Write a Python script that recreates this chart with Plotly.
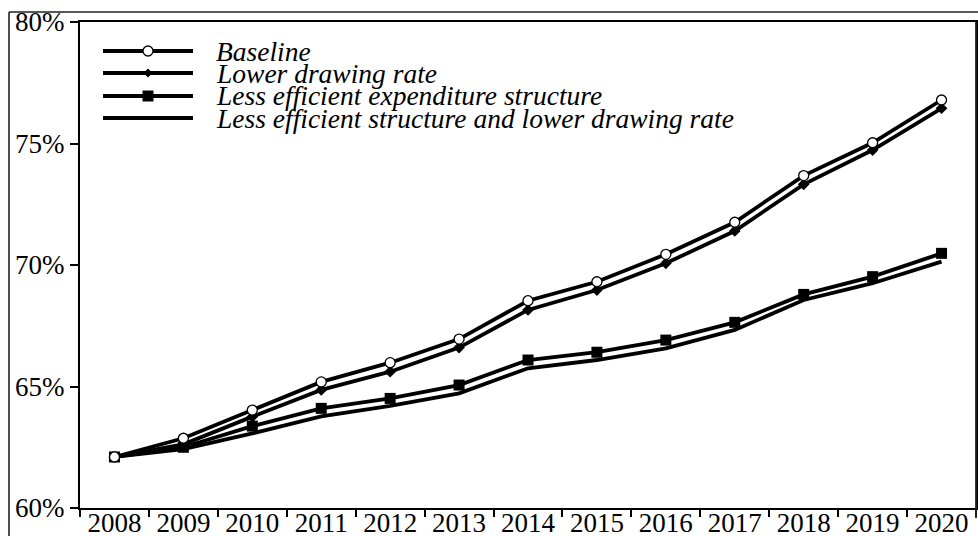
import plotly.graph_objects as go

years = ["2008", "2009", "2010", "2011", "2012", "2013", "2014",
         "2015", "2016", "2017", "2018", "2019", "2020"]
baseline = [62.1, 62.87, 64.03, 65.19, 65.98, 66.95, 68.53, 69.31, 70.44, 71.76, 73.68, 75.03, 76.79]
lower_rate = [62.1, 62.62, 63.76, 64.86, 65.61, 66.60, 68.15, 68.97, 70.07, 71.40, 73.32, 74.73, 76.45]
less_eff = [62.1, 62.50, 63.37, 64.10, 64.51, 65.06, 66.09, 66.41, 66.91, 67.64, 68.79, 69.52, 70.48]
less_eff_lower = [62.1, 62.42, 63.07, 63.77, 64.20, 64.72, 65.75, 66.09, 66.57, 67.33, 68.56, 69.25, 70.14]
series_names = ["Baseline", "Lower drawing rate",
                "Less efficient expenditure structure",
                "Less efficient structure and lower drawing rate"]
y_ticks = [60, 65, 70, 75, 80]

W, H = 978, 536
L, R, T, B = 80, 2, 22, 28
PW, PH = W - L - R, H - T - B

def px(x):
    return (x - L) / PW

def py(y):
    return (H - B - y) / PH

FONT = "Liberation Serif, Times New Roman, serif"
LW = 3.8

fig = go.Figure()
fig.add_trace(go.Scatter(x=years, y=less_eff_lower, mode="lines", name=series_names[3],
                         line=dict(color="black", width=LW)))
fig.add_trace(go.Scatter(x=years, y=less_eff, mode="lines+markers", name=series_names[2],
                         line=dict(color="black", width=LW),
                         marker=dict(symbol="square", size=11, color="black")))
fig.add_trace(go.Scatter(x=years, y=lower_rate, mode="lines+markers", name=series_names[1],
                         line=dict(color="black", width=LW),
                         marker=dict(symbol="diamond", size=9, color="black")))
fig.add_trace(go.Scatter(x=years, y=baseline, mode="lines+markers", name=series_names[0],
                         line=dict(color="black", width=LW),
                         marker=dict(symbol="circle", size=10, color="white",
                                     line=dict(color="black", width=1.3))))

shapes = []
annotations = []
# outer frame
shapes.append(dict(type="line", xref="paper", yref="paper", x0=px(9), x1=px(9), y0=py(12), y1=py(545),
                   line=dict(color="#222", width=1.6)))
shapes.append(dict(type="line", xref="paper", yref="paper", x0=px(9), x1=px(985), y0=py(12), y1=py(12),
                   line=dict(color="#222", width=1.6)))
shapes.append(dict(type="line", xref="paper", yref="paper", x0=px(976), x1=px(976), y0=py(22), y1=py(518),
                   line=dict(color="#222", width=1.8)))

# legend
rows = [51, 73, 96, 118]
lx0, lx1, lxm = 103, 193, 148
for i, (name, ry) in enumerate(zip(series_names, rows)):
    shapes.append(dict(type="line", xref="paper", yref="paper", x0=px(lx0), x1=px(lx1),
                       y0=py(ry), y1=py(ry), line=dict(color="black", width=LW)))
    if i == 0:
        r = 5
        shapes.append(dict(type="circle", xref="paper", yref="paper",
                           x0=px(lxm - r), x1=px(lxm + r), y0=py(ry + r), y1=py(ry - r),
                           fillcolor="white", line=dict(color="black", width=1.3)))
    elif i == 1:
        d = 4.5
        path = "M {} {} L {} {} L {} {} L {} {} Z".format(
            px(lxm - d), py(ry), px(lxm), py(ry - d), px(lxm + d), py(ry), px(lxm), py(ry + d))
        shapes.append(dict(type="path", xref="paper", yref="paper", path=path,
                           fillcolor="black", line=dict(color="black", width=0)))
    elif i == 2:
        s = 5.5
        shapes.append(dict(type="rect", xref="paper", yref="paper",
                           x0=px(lxm - s), x1=px(lxm + s), y0=py(ry + s), y1=py(ry - s),
                           fillcolor="black", line=dict(color="black", width=0)))
    annotations.append(dict(xref="paper", yref="paper", x=px(214), y=py(ry),
                            xanchor="left", yanchor="middle", showarrow=False,
                            text="<i>" + name + "</i>",
                            font=dict(family=FONT, size=27.5, color="black")))

fig.update_layout(
    width=W, height=H,
    margin=dict(l=L, r=R, t=T, b=B, pad=0),
    paper_bgcolor="white", plot_bgcolor="white",
    showlegend=False,
    font=dict(family=FONT, size=27, color="black"),
    shapes=shapes, annotations=annotations,
    xaxis=dict(type="category", range=[-0.5, 12.5], tickson="boundaries",
               ticks="outside", ticklen=7, tickwidth=2, tickcolor="black",
               ticklabelstandoff=-10,
               showline=True, linecolor="black", linewidth=2, mirror=True,
               showgrid=False, zeroline=False, automargin=False,
               tickfont=dict(family=FONT, size=27, color="black")),
    yaxis=dict(range=[60, 80], tickvals=y_ticks, ticktext=[f"{v}%" for v in y_ticks],
               ticks="outside", ticklen=8, tickwidth=2, tickcolor="black",
               showline=True, linecolor="black", linewidth=2, mirror=True,
               showgrid=False, zeroline=False, automargin=False,
               tickfont=dict(family=FONT, size=27, color="black")),
)

fig.write_html("out.html", config={"displayModeBar": False},
               post_script="document.body.style.margin='0';document.body.style.overflow='hidden';")
